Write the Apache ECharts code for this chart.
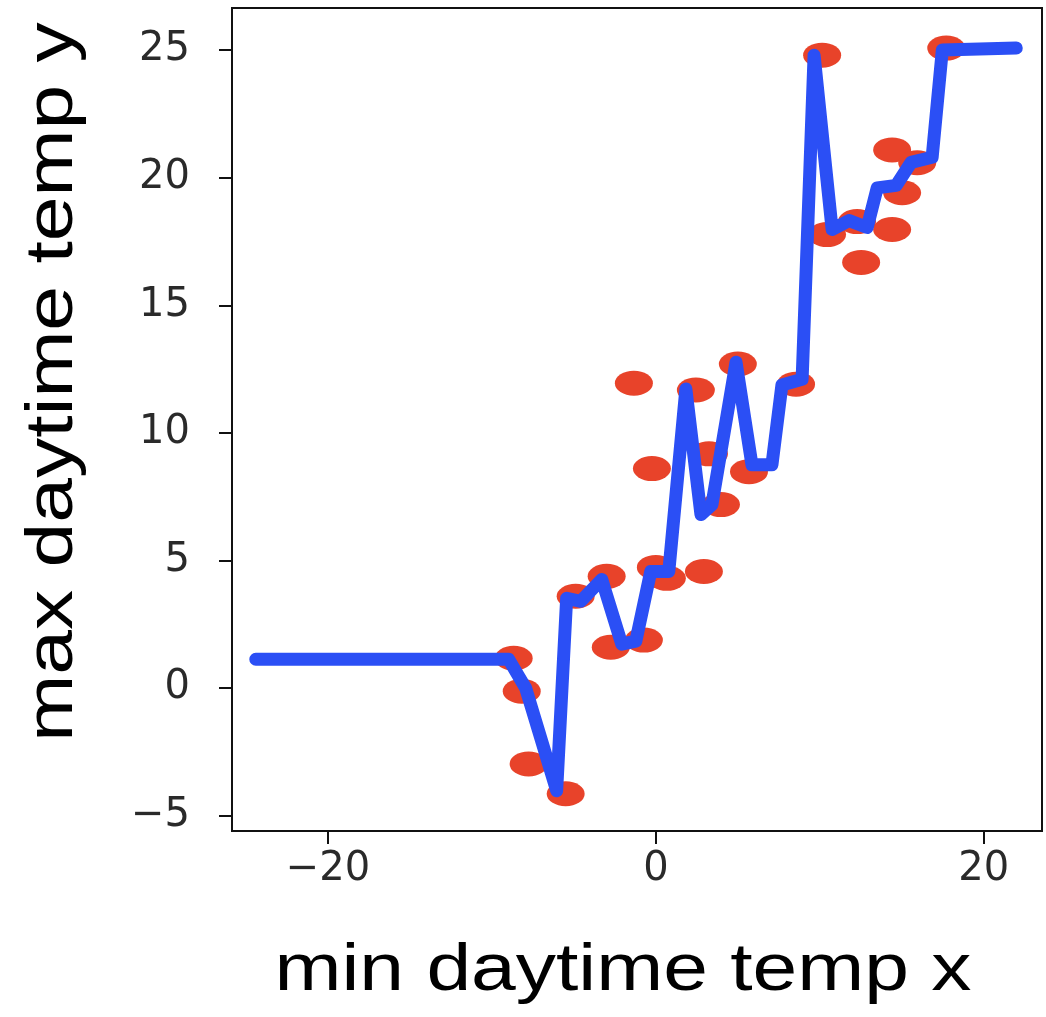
<!DOCTYPE html>
<html>
<head>
<meta charset="utf-8">
<script src="https://cdn.jsdelivr.net/npm/echarts@6/dist/echarts.min.js"></script>
<style>html,body{margin:0;padding:0;background:#fff}#c{width:1046px;height:1017px}</style>
</head>
<body>
<div id="c"></div>
<script>
const xTicks = [-20, 0, 20];
const yTicks = [-5, 0, 5, 10, 15, 20, 25];
const dotX = [-8.67,-8.18,-7.76,-5.5,-4.89,-3.0,-2.75,-1.34,-0.73,-0.24,0.0,0.67,2.44,2.93,3.24,3.97,5.0,5.68,8.55,10.14,10.44,12.27,12.52,14.41,14.41,15.02,15.94,17.71];
const dotY = [1.17,-0.12,-2.97,-4.14,3.6,4.38,1.6,11.95,1.88,8.6,4.73,4.3,11.68,4.57,9.18,7.19,12.7,8.48,11.91,24.8,17.77,18.28,16.68,17.97,21.09,19.41,20.59,25.08];
const fitX = [-24.4,-8.98,-7.94,-6.05,-5.44,-4.58,-3.3,-2.08,-1.22,-0.31,0.79,1.83,2.75,3.42,4.89,5.86,7.08,7.69,8.92,9.65,10.75,11.79,12.89,13.5,14.66,15.57,16.85,17.47,21.98];
const fitY = [1.13,1.13,0.0,-4.02,3.52,3.4,4.26,1.72,1.84,4.57,4.57,11.72,6.8,7.19,12.77,8.75,8.75,11.88,12.1,24.8,17.97,18.32,18.05,19.6,19.7,20.6,20.8,25.0,25.08];
const xTitle = 'min daytime temp x';
const yTitle = 'max daytime temp y';

const chart = echarts.init(document.getElementById('c'));
const tickFont = {fontFamily: 'DejaVu Sans', fontSize: 40, color: '#2a2a2a'};
chart.setOption({
  animation: false,
  grid: {left: 232, top: 8, right: 4, bottom: 186, show: true, borderColor: '#111', borderWidth: 2, backgroundColor: '#fff'},
  xAxis: {
    type: 'value', min: -25.85, max: 23.55,
    splitLine: {show: false},
    axisLine: {show: true, onZero: false, lineStyle: {color: '#111', width: 2}},
    axisTick: {show: true, length: 13, lineStyle: {color: '#111', width: 2}, customValues: xTicks},
    axisLabel: Object.assign({customValues: xTicks, margin: 19, formatter: v => String(v).replace('-', '\u2212')}, tickFont)
  },
  yAxis: {
    type: 'value', min: -5.6, max: 26.65,
    splitLine: {show: false},
    axisLine: {show: true, onZero: false, lineStyle: {color: '#111', width: 2}},
    axisTick: {show: true, length: 13, lineStyle: {color: '#111', width: 2}, customValues: yTicks},
    axisLabel: Object.assign({customValues: yTicks, margin: 42, formatter: v => String(v).replace('-', '\u2212')}, tickFont)
  },
  graphic: [
    {type: 'text', x: 623, y: 938, scaleX: 1.2, style: {text: xTitle, font: '67px "Liberation Sans"', fill: '#000', align: 'center', verticalAlign: 'top'}},
    {type: 'text', x: 20, y: 382, rotation: Math.PI/2, scaleX: 1.2, style: {text: yTitle, font: '67px "Liberation Sans"', fill: '#000', align: 'center', verticalAlign: 'top'}}
  ],
  series: [
    {type: 'scatter', data: dotX.map((x, i) => [x, dotY[i]]), symbol: 'circle', symbolSize: [38, 25],
     itemStyle: {color: '#e8432a', opacity: 1}, z: 2},
    {type: 'line', data: fitX.map((x, i) => [x, fitY[i]]), showSymbol: false, symbol: 'none',
     lineStyle: {color: '#2b4ff5', width: 13, join: 'round', cap: 'round'}, z: 3}
  ]
});
</script>
</body>
</html>
